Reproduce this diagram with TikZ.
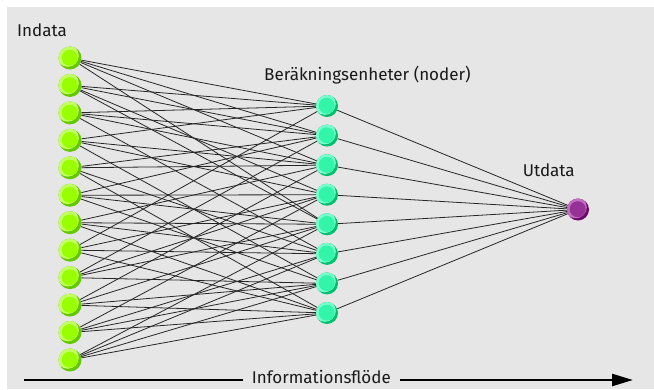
\documentclass[tikz,border=0pt]{standalone}
\usepackage{fontspec}
\setmainfont{Fira Sans}
\usetikzlibrary{arrows.meta}
\definecolor{bg}{RGB}{230,230,230}
\definecolor{inL}{RGB}{195,255,100}
\definecolor{inM}{RGB}{153,255,0}
\definecolor{inD}{RGB}{100,200,0}
\definecolor{hiL}{RGB}{120,255,205}
\definecolor{hiM}{RGB}{50,245,170}
\definecolor{hiD}{RGB}{0,190,110}
\definecolor{ouL}{RGB}{195,110,195}
\definecolor{ouM}{RGB}{150,50,150}
\definecolor{ouD}{RGB}{105,10,105}
\tikzset{
  ball/.style n args={3}{circle, inner sep=0pt, minimum size=22pt, path picture={
      \fill[#3] (path picture bounding box.center) circle (12pt);
      \fill[#1] ([shift={(-2.2pt,2.2pt)}]path picture bounding box.center) circle (11pt);
      \fill[#2] ([shift={(-0.3pt,0.3pt)}]path picture bounding box.center) circle (8pt);
  }},
  innode/.style={ball={inL}{inM}{inD}, minimum size=23pt},
  hidnode/.style={ball={hiL}{hiM}{hiD}},
  outnode/.style={ball={ouL}{ouM}{ouD}},
  lbl/.style={inner sep=0pt, font=\fontsize{17}{20}\selectfont, text=black!90},
  wire/.style={line width=0.8pt, black!85},
}
\begin{document}
\begin{tikzpicture}[x=1pt,y=-1pt]
\useasboundingbox (0,0) rectangle (654,389);
\fill[bg] (7,7) rectangle (654,389);
% nodes
\foreach \i in {1,...,12} {
  \node[innode] (i\i) at (70,{58+27.45*(\i-1)}) {};
}
\foreach \j in {1,...,8} {
  \node[hidnode] (h\j) at (327,{106+29.57*(\j-1)}) {};
}
\node[outnode] (o) at (578,209.5) {};
% wires
\foreach \i/\j in {1/1,1/2,1/3,1/5, 2/1,2/2,2/4,2/5, 3/1,3/2,3/3,3/6, 4/1,4/3,4/4,4/7,
  5/2,5/3,5/6,5/8, 6/2,6/4,6/5,6/7, 7/3,7/5,7/6,7/8, 8/1,8/4,8/6,8/8,
  9/2,9/4,9/5,9/7, 10/3,10/5,10/7,10/8, 11/4,11/6,11/7,11/8, 12/5,12/6,12/7,12/8} {
  \draw[wire] (i\i) -- (h\j);
}
\foreach \j in {1,...,8} {
  \draw[wire] (h\j) -- (o);
}
% labels
\node[lbl, anchor=base west] (tin) at (17,36) {Indata};
\node[lbl, anchor=base west] (thid) at (264,80.7) {Beräkningsenheter (noder)};
\node[lbl, anchor=base west] (tout) at (522.7,176) {Utdata};
\node[lbl, anchor=base west, inner xsep=9pt] (flow) at (242.7,383.3) {Informationsflöde};
\coordinate (a0) at (24,380);
\coordinate (a1) at (633,380);
\draw[line width=2.5pt] (a0) -- (a0 -| flow.west);
\draw[line width=2.5pt, -{Triangle[length=21pt,width=12pt]}] (a0 -| flow.east) -- (a1);
\end{tikzpicture}
\end{document}
